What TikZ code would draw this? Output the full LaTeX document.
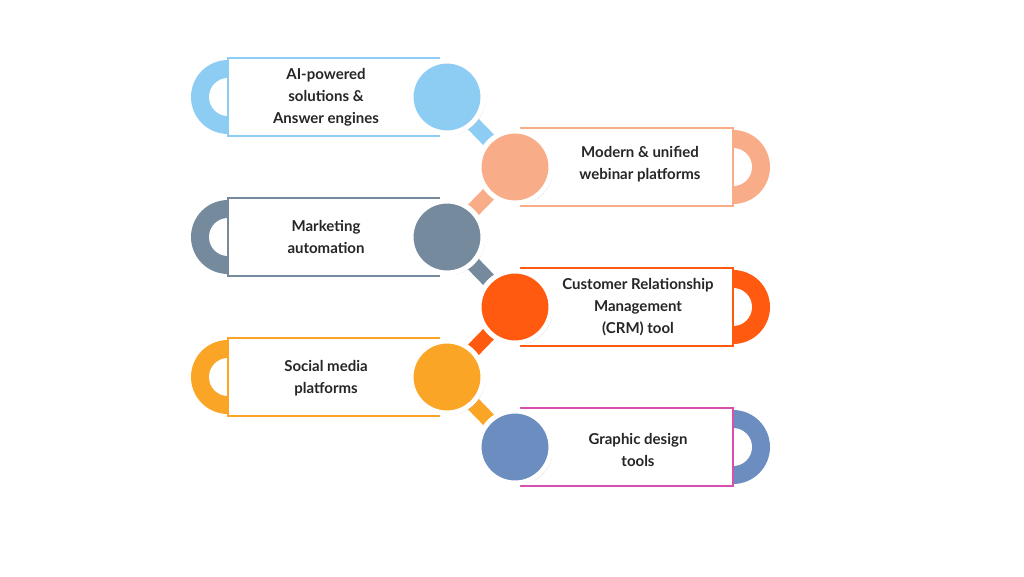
\documentclass[tikz,border=0pt]{standalone}
\usepackage{fontspec}
\setmainfont{Lato}
\usetikzlibrary{shadows}
\definecolor{cA}{HTML}{8DCDF3}
\definecolor{cB}{HTML}{F9AC88}
\definecolor{cC}{HTML}{768A9E}
\definecolor{cD}{HTML}{FF5A0F}
\definecolor{cE}{HTML}{FBA526}
\definecolor{cF}{HTML}{6B8DC0}
\definecolor{cP}{HTML}{D94FB0}
\tikzset{
  dot/.style={circle,minimum size=72pt,inner sep=0,draw=white,line width=5pt,fill=#1,
    drop shadow={shadow xshift=2pt,shadow yshift=-2pt,opacity=.3,fill=black!60}},
  lbl/.style={font=\fontsize{15}{22}\selectfont\bfseries,align=center,text=black!85},
  link/.style={line width=15pt,draw=#1},
}
\begin{document}
\begin{tikzpicture}[x=1pt,y=-1pt]
\useasboundingbox (0,0) rectangle (1024,576);
% left items
\foreach \y/\c/\b in {97/cA/cA,237/cC/cC,377/cE/cE}{
  \fill[\c] (228,\y) circle[radius=37pt];
  \fill[white] (228,\y) circle[radius=19pt];
  \fill[white] (228,\y-39) rectangle (440,\y+39);
  \draw[\b,line width=1.2pt] (440,\y-39) -- (228,\y-39) -- (228,\y+39) -- (440,\y+39);
}
% right items
\foreach \y/\c/\b in {167/cB/cB,307/cD/cD,447/cF/cP}{
  \fill[\c] (733,\y) circle[radius=37pt];
  \fill[white] (733,\y) circle[radius=19pt];
  \fill[white] (520,\y-39) rectangle (733,\y+39);
  \draw[\b,line width=1.2pt] (520,\y-39) -- (733,\y-39) -- (733,\y+39) -- (520,\y+39);
}
\coordinate (p1) at (447,97);
\coordinate (p2) at (515,167);
\coordinate (p3) at (447,237);
\coordinate (p4) at (515,307);
\coordinate (p5) at (447,377);
\coordinate (p6) at (515,447);
\draw[link=cA] (p1) -- (p2);
\draw[link=cB] (p2) -- (p3);
\draw[link=cC] (p3) -- (p4);
\draw[link=cD] (p4) -- (p5);
\draw[link=cE] (p5) -- (p6);
\node[dot=cA] (c1) at (p1) {};
\node[dot=cB] (c2) at (p2) {};
\node[dot=cC] (c3) at (p3) {};
\node[dot=cD] (c4) at (p4) {};
\node[dot=cE] (c5) at (p5) {};
\node[dot=cF] (c6) at (p6) {};
\node[lbl] (t1) at (326,97) {AI-powered\\solutions \&\\Answer engines};
\node[lbl] (t2) at (640,164) {Modern \& unified\\webinar platforms};
\node[lbl] (t3) at (326,237) {Marketing\\automation};
\node[lbl] (t4) at (638,307) {Customer Relationship\\Management\\(CRM) tool};
\node[lbl] (t5) at (326,378) {Social media\\platforms};
\node[lbl] (t6) at (638,450) {Graphic design\\tools};
\end{tikzpicture}
\end{document}
